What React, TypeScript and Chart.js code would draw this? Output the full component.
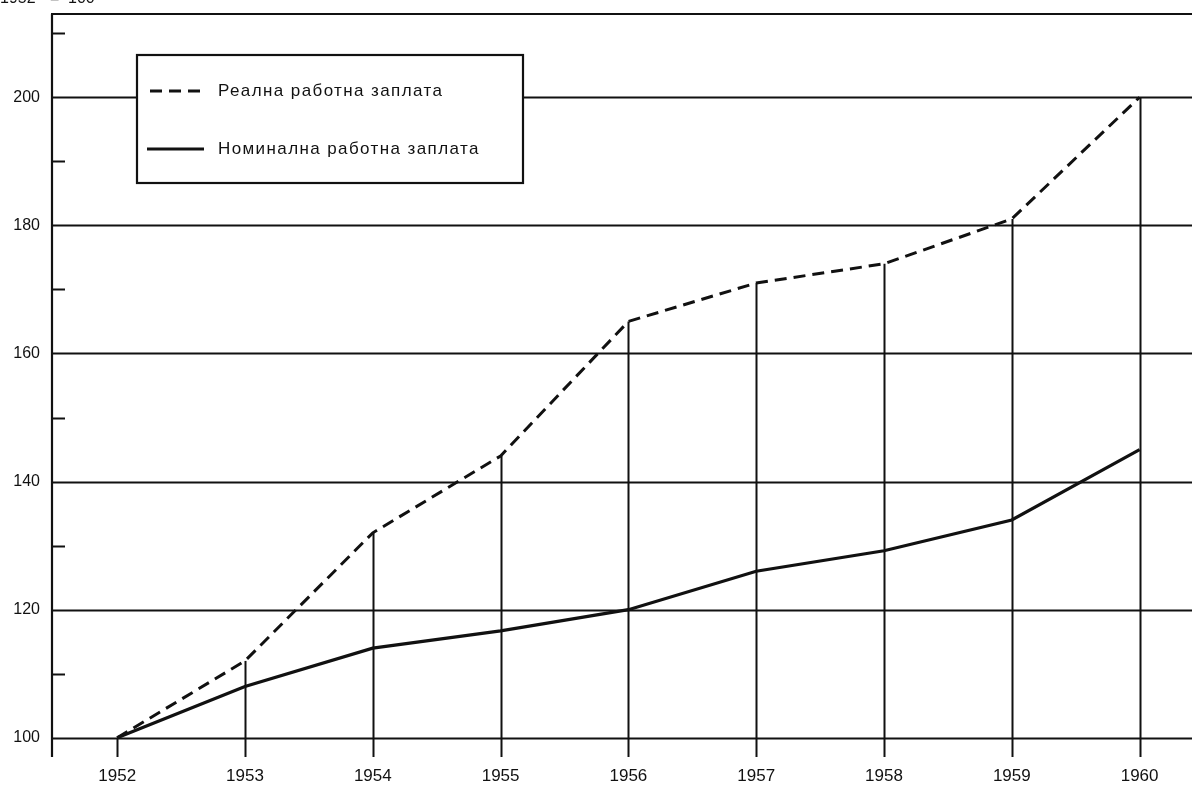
import React, { useEffect, useRef } from 'react';
import { Chart, registerables } from 'chart.js';

Chart.register(...registerables);

const years = [1952, 1953, 1954, 1955, 1956, 1957, 1958, 1959, 1960];
const realWage = [100, 112, 132, 144, 165, 171, 174, 181, 200];
const nominalWage = [100, 108, 114, 116.7, 120, 126, 129.2, 134, 145];
const yTickLabels = [100, 120, 140, 160, 180, 200];
const minorTicks = [110, 130, 150, 170, 190, 210];
const seriesLabels = ['Реална работна заплата', 'Номинална работна заплата'];
const baseNote = ['1952', '=', '100'];

const FONT = "'Liberation Sans', Arial, sans-serif";
const INK = '#111';

const decorPlugin = {
  id: 'decor',
  beforeDatasetsDraw(chart: any) {
    const { ctx, chartArea, scales } = chart;
    const xs = scales.x;
    const ys = scales.y;
    ctx.save();
    ctx.strokeStyle = INK;
    ctx.lineCap = 'butt';
    // horizontal grid lines
    ctx.lineWidth = 1.8;
    yTickLabels.forEach((v) => {
      const y = Math.round(ys.getPixelForValue(v)) + 0.5;
      ctx.beginPath();
      ctx.moveTo(chartArea.left, y);
      ctx.lineTo(chartArea.right, y);
      ctx.stroke();
    });
    // minor ticks on the left axis
    ctx.lineWidth = 2;
    minorTicks.forEach((v) => {
      const y = Math.round(ys.getPixelForValue(v)) + 0.5;
      ctx.beginPath();
      ctx.moveTo(chartArea.left, y);
      ctx.lineTo(chartArea.left + 13, y);
      ctx.stroke();
    });
    // left axis
    ctx.lineWidth = 2.2;
    ctx.beginPath();
    ctx.moveTo(chartArea.left, chartArea.top);
    ctx.lineTo(chartArea.left, chartArea.bottom);
    ctx.stroke();
    // top border
    ctx.beginPath();
    ctx.moveTo(chartArea.left - 1, chartArea.top);
    ctx.lineTo(chartArea.right, chartArea.top);
    ctx.stroke();
    // drop lines from real wage points
    ctx.lineWidth = 2;
    years.forEach((yr, i) => {
      const x = Math.round(xs.getPixelForValue(yr)) + 0.5;
      const y = ys.getPixelForValue(realWage[i]);
      ctx.beginPath();
      ctx.moveTo(x, y);
      ctx.lineTo(x, chartArea.bottom);
      ctx.stroke();
    });
    ctx.restore();
  },
  afterDatasetsDraw(chart: any) {
    const { ctx } = chart;
    ctx.save();
    // legend box
    const bx = 137, by = 55, bw = 386, bh = 128;
    ctx.fillStyle = '#fff';
    ctx.fillRect(bx, by, bw, bh);
    ctx.strokeStyle = INK;
    ctx.lineWidth = 2.2;
    ctx.strokeRect(bx, by, bw, bh);
    // samples
    ctx.lineWidth = 3;
    ctx.setLineDash([12, 7]);
    ctx.beginPath();
    ctx.moveTo(150, 91);
    ctx.lineTo(206, 91);
    ctx.stroke();
    ctx.setLineDash([]);
    ctx.beginPath();
    ctx.moveTo(147, 149);
    ctx.lineTo(204, 149);
    ctx.stroke();
    ctx.fillStyle = INK;
    ctx.font = `17px ${FONT}`;
    (ctx as any).letterSpacing = '1.4px';
    ctx.textBaseline = 'middle';
    ctx.textAlign = 'left';
    ctx.fillText(seriesLabels[0], 218, 91);
    ctx.fillText(seriesLabels[1], 218, 149);
    // base note at top-left (cut by page edge)
    (ctx as any).letterSpacing = '0px';
    ctx.textBaseline = 'alphabetic';
    ctx.font = `16px ${FONT}`;
    ctx.fillText(baseNote[0], 0, 3);
    ctx.fillText(baseNote[1], 50, 3);
    ctx.fillText(baseNote[2], 68, 3);
    ctx.restore();
  },
};

export default function App() {
  const ref = useRef<HTMLCanvasElement | null>(null);
  useEffect(() => {
    document.body.style.margin = '0';
    document.body.style.background = '#fff';
    const canvas = ref.current!;
    const chart = new Chart(canvas, {
      type: 'line',
      data: {
        datasets: [
          {
            label: seriesLabels[0],
            data: years.map((x, i) => ({ x, y: realWage[i] })),
            borderColor: INK,
            borderWidth: 3,
            borderDash: [12, 7],
            pointRadius: 0,
            tension: 0,
            fill: false,
          },
          {
            label: seriesLabels[1],
            data: years.map((x, i) => ({ x, y: nominalWage[i] })),
            borderColor: INK,
            borderWidth: 3.2,
            pointRadius: 0,
            tension: 0,
            fill: false,
          },
        ],
      },
      options: {
        animation: false,
        responsive: false,
        devicePixelRatio: 1,
        layout: { padding: { top: 14, left: 0, right: 0, bottom: 0 } },
        plugins: {
          legend: { display: false },
          tooltip: { enabled: false },
        },
        scales: {
          x: {
            type: 'linear',
            min: 1951.49,
            max: 1960.41,
            afterBuildTicks: (s: any) => {
              s.ticks = years.map((v) => ({ value: v }));
            },
            afterFit: (s: any) => {
              s.height = 30;
              s.paddingLeft = 0;
              s.paddingRight = 0;
            },
            grid: { display: false, drawTicks: false },
            border: { display: false },
            ticks: {
              color: INK,
              padding: 9,
              maxRotation: 0,
              autoSkip: false,
              font: { family: FONT, size: 17 },
              callback: (v: any) => String(v),
            },
          },
          y: {
            type: 'linear',
            min: 97,
            max: 213,
            afterBuildTicks: (s: any) => {
              s.ticks = yTickLabels.map((v) => ({ value: v }));
            },
            afterFit: (s: any) => {
              s.width = 52;
              s.paddingTop = 0;
              s.paddingBottom = 0;
            },
            grid: { display: false, drawTicks: false },
            border: { display: false },
            ticks: {
              color: INK,
              padding: 12,
              autoSkip: false,
              font: { family: FONT, size: 16 },
              callback: (v: any) => String(v),
            },
          },
        },
      },
      plugins: [decorPlugin],
    });
    return () => chart.destroy();
  }, []);
  return (
    <div style={{ position: 'fixed', left: 0, top: 0, width: 1192, height: 787, background: '#fff' }}>
      <canvas ref={ref} width={1192} height={787} style={{ display: 'block' }} />
    </div>
  );
}
